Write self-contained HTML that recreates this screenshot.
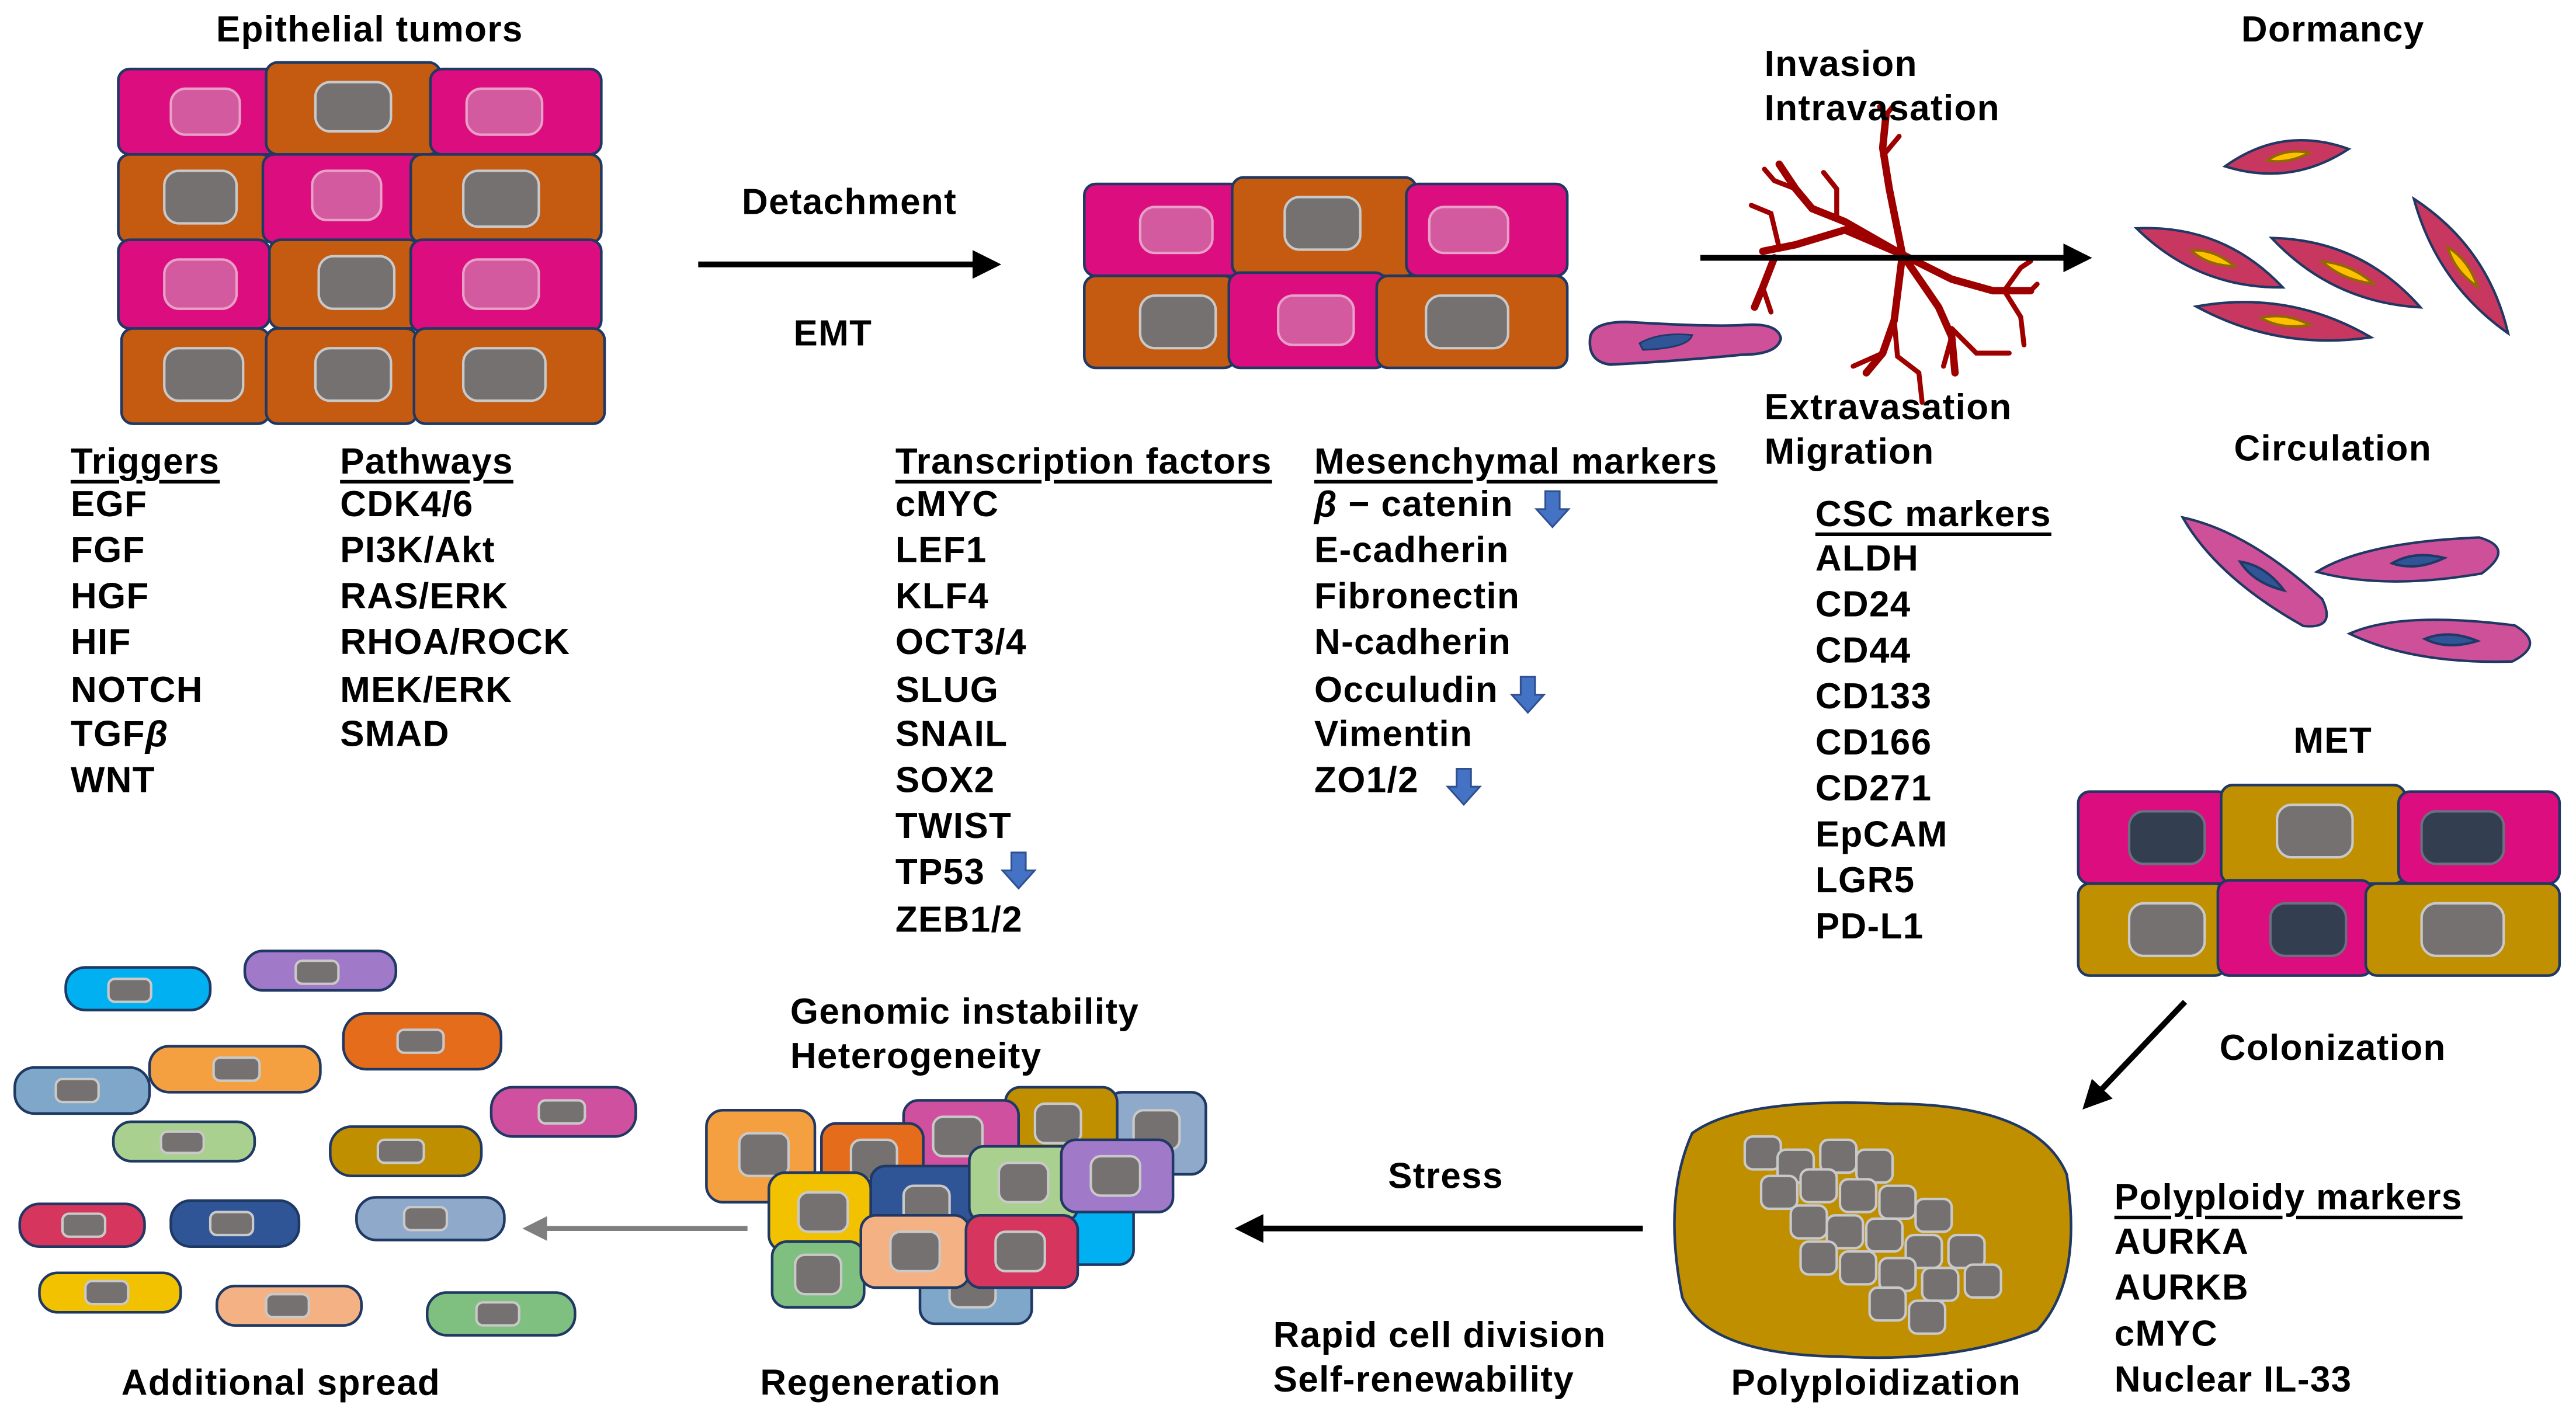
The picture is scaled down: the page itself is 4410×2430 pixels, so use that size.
<!DOCTYPE html>
<html><head><meta charset="utf-8"><style>
html,body{margin:0;padding:0;background:#fff;width:4410px;height:2430px;overflow:hidden}
svg{display:block}
text{font-family:"Liberation Sans",Arial,sans-serif;font-weight:bold;font-size:22px;letter-spacing:0.5px;fill:#000;dominant-baseline:central}
.c{stroke:#1F3864;stroke-width:1.6}
.n{fill:#767171;stroke:#C9C9C9;stroke-width:1.5}
.pn{fill:#D45A9F;stroke:#E8A0C8;stroke-width:1.5}
.dn{fill:#333F50;stroke:#6A7080;stroke-width:1.5}
.v{fill:none;stroke:#9E0000;stroke-width:4.5;stroke-linecap:round;stroke-linejoin:round}
.v2{fill:none;stroke:#9E0000;stroke-width:3;stroke-linecap:round}
</style></head><body>
<svg width="4410" height="2430" viewBox="0 0 1568 864" xmlns="http://www.w3.org/2000/svg">
<defs>
<marker id="ah" viewBox="0 0 10 10" refX="8" refY="5" markerWidth="5" markerHeight="5" orient="auto"><path d="M0,0 L10,5 L0,10 z" fill="#000"/></marker>
<marker id="ahg" viewBox="0 0 10 10" refX="8" refY="5" markerWidth="5" markerHeight="5" orient="auto"><path d="M0,0 L10,5 L0,10 z" fill="#7F7F7F"/></marker>
<symbol id="da" viewBox="0 0 20 22"><path d="M6,1 H14 V11 H19 L10,21 L1,11 H6 Z" fill="#4472C4" stroke="#2F4F8F" stroke-width="1"/></symbol>
</defs>

<text x="225" y="18" text-anchor="middle">Epithelial tumors</text>
<g>
<rect class="c" x="72" y="42" width="98" height="52" rx="7" fill="#DC0D7E"/><rect class="pn" x="104" y="54" width="42" height="28" rx="9"/>
<rect class="c" x="162" y="38" width="106" height="56" rx="7" fill="#C55A11"/><rect class="n" x="192" y="50" width="46" height="30" rx="9"/>
<rect class="c" x="262" y="42" width="104" height="52" rx="7" fill="#DC0D7E"/><rect class="pn" x="284" y="54" width="46" height="28" rx="9"/>
<rect class="c" x="72" y="94" width="94" height="54" rx="7" fill="#C55A11"/><rect class="n" x="100" y="104" width="44" height="32" rx="9"/>
<rect class="c" x="160" y="94" width="98" height="54" rx="7" fill="#DC0D7E"/><rect class="pn" x="190" y="104" width="42" height="30" rx="9"/>
<rect class="c" x="250" y="94" width="116" height="54" rx="7" fill="#C55A11"/><rect class="n" x="282" y="104" width="46" height="34" rx="9"/>
<rect class="c" x="72" y="146" width="92" height="54" rx="7" fill="#DC0D7E"/><rect class="pn" x="100" y="158" width="44" height="30" rx="9"/>
<rect class="c" x="164" y="146" width="92" height="54" rx="7" fill="#C55A11"/><rect class="n" x="194" y="156" width="46" height="32" rx="9"/>
<rect class="c" x="250" y="146" width="116" height="56" rx="7" fill="#DC0D7E"/><rect class="pn" x="282" y="158" width="46" height="30" rx="9"/>
<rect class="c" x="74" y="200" width="90" height="58" rx="7" fill="#C55A11"/><rect class="n" x="100" y="212" width="48" height="32" rx="9"/>
<rect class="c" x="162" y="200" width="92" height="58" rx="7" fill="#C55A11"/><rect class="n" x="192" y="212" width="46" height="32" rx="9"/>
<rect class="c" x="252" y="200" width="116" height="58" rx="7" fill="#C55A11"/><rect class="n" x="282" y="212" width="50" height="32" rx="9"/>
</g>

<line x1="425" y1="161" x2="606" y2="161" stroke="#000" stroke-width="3.5" marker-end="url(#ah)"/>
<text x="517" y="123" text-anchor="middle">Detachment</text>
<text x="507" y="203" text-anchor="middle">EMT</text>

<g>
<rect class="c" x="660" y="112" width="96" height="56" rx="7" fill="#DC0D7E"/><rect class="pn" x="694" y="126" width="44" height="28" rx="9"/>
<rect class="c" x="750" y="108" width="112" height="60" rx="7" fill="#C55A11"/><rect class="n" x="782" y="120" width="46" height="32" rx="9"/>
<rect class="c" x="856" y="112" width="98" height="56" rx="7" fill="#DC0D7E"/><rect class="pn" x="870" y="126" width="48" height="28" rx="9"/>
<rect class="c" x="660" y="168" width="92" height="56" rx="7" fill="#C55A11"/><rect class="n" x="694" y="180" width="46" height="32" rx="9"/>
<rect class="c" x="748" y="166" width="96" height="58" rx="7" fill="#DC0D7E"/><rect class="pn" x="778" y="180" width="46" height="30" rx="9"/>
<rect class="c" x="838" y="168" width="116" height="56" rx="7" fill="#C55A11"/><rect class="n" x="868" y="180" width="50" height="32" rx="9"/>
<path class="c" d="M968,205 Q970,196 990,196 Q1040,199 1060,198 Q1082,196 1084,206 Q1082,216 1060,216 Q1020,220 980,222 Q966,220 968,205Z" fill="#CE5099"/>
<path d="M998,209 Q1010,202 1030,204 Q1028,212 1000,213Z" fill="#2F5597" stroke="#1F3864"/>
</g>

<g transform="translate(1158,155)">
<path class="v" d="M0,0 L-8,-40 L-12,-65 L-10,-85"/>
<path class="v2" d="M-12,-60 L-2,-72 M-10,-85 L-14,-90 M-10,-85 L-6,-90"/>
<path class="v" d="M0,0 L-35,-20 L-55,-28 L-65,-40 L-75,-55"/>
<path class="v2" d="M-55,-28 L-68,-45 M-65,-40 L-78,-45 L-84,-52 M-40,-22 L-40,-40 L-48,-50"/>
<path class="v" d="M0,0 L-35,-15 L-65,-6 L-85,-2"/>
<path class="v2" d="M-75,-4 L-80,-25 L-92,-30"/>
<path class="v" d="M-78,2 L-85,20 L-90,32"/>
<path class="v2" d="M-85,20 L-80,35"/>
<path class="v" d="M0,0 L-5,40 L-12,60 L-22,72"/>
<path class="v2" d="M-12,60 L-30,68 M-5,40 L-3,62 L10,72 L12,90"/>
<path class="v" d="M0,0 L22,32 L30,50 L32,72"/>
<path class="v2" d="M30,50 L25,68 M30,45 L45,60 L65,60"/>
<path class="v" d="M0,0 L30,15 L55,22 L78,22"/>
<path class="v2" d="M62,22 L72,8 L78,4 M78,22 L82,18 M62,22 L72,38 L74,55"/>
</g>
<line x1="1035" y1="157" x2="1270" y2="157" stroke="#000" stroke-width="3.5" marker-end="url(#ah)"/>
<text x="1074" y="39">Invasion</text>
<text x="1074" y="66">Intravasation</text>
<text x="1074" y="248">Extravasation</text>
<text x="1074" y="275">Migration</text>

<text x="1420" y="18" text-anchor="middle">Dormancy</text>
<g fill="#C8375F" stroke="#1F3864" stroke-width="1.5">
<g transform="translate(1392,96) rotate(-8)"><path d="M-38,0 Q0,-20 38,0 Q0,18 -38,0Z"/><path d="M-12,0 Q0,-6 14,-1 Q0,4 -12,0Z" fill="#FFC000" stroke="#8F6A00"/></g>
<g transform="translate(1345,157) rotate(22)"><path d="M-48,0 Q0,-22 48,0 Q0,20 -48,0Z"/><path d="M-12,0 Q0,-6 16,-1 Q0,5 -12,0Z" fill="#FFC000" stroke="#8F6A00"/></g>
<g transform="translate(1428,166) rotate(25)"><path d="M-50,0 Q0,-22 50,0 Q0,20 -50,0Z"/><path d="M-16,0 Q0,-6 18,-1 Q0,5 -16,0Z" fill="#FFC000" stroke="#8F6A00"/></g>
<g transform="translate(1498,162) rotate(55)"><path d="M-50,0 Q0,-20 50,0 Q0,18 -50,0Z"/><path d="M-14,0 Q0,-6 16,-1 Q0,5 -14,0Z" fill="#FFC000" stroke="#8F6A00"/></g>
<g transform="translate(1390,196) rotate(10)"><path d="M-54,0 Q0,-20 54,0 Q0,18 -54,0Z"/><path d="M-14,0 Q0,-6 16,-1 Q0,5 -14,0Z" fill="#FFC000" stroke="#8F6A00"/></g>
</g>

<text x="1420" y="273" text-anchor="middle">Circulation</text>
<g fill="#CE5099" stroke="#1F3864" stroke-width="1.5">
<g transform="translate(1375,350) rotate(35)"><path d="M-58,-2 Q-20,-18 40,-10 Q58,0 40,10 Q-20,16 -58,-2Z"/><path d="M-14,0 Q0,-7 18,-1 Q0,6 -14,0Z" fill="#2F5597"/></g>
<g transform="translate(1470,342) rotate(-4)"><path d="M-60,2 Q-30,-14 40,-12 Q62,-4 40,10 Q-20,16 -60,2Z"/><path d="M-14,0 Q0,-7 18,-1 Q0,6 -14,0Z" fill="#2F5597"/></g>
<g transform="translate(1490,390) rotate(4)"><path d="M-60,0 Q-30,-16 40,-12 Q60,-2 40,10 Q-20,16 -60,0Z"/><path d="M-14,0 Q0,-7 18,-1 Q0,6 -14,0Z" fill="#2F5597"/></g>
</g>

<text x="1420" y="451" text-anchor="middle">MET</text>
<g>
<rect class="c" x="1265" y="482" width="92" height="56" rx="7" fill="#DC0D7E"/><rect class="dn" x="1296" y="494" width="46" height="32" rx="9"/>
<rect class="c" x="1352" y="478" width="112" height="60" rx="7" fill="#C09000"/><rect class="n" x="1386" y="490" width="46" height="32" rx="9"/>
<rect class="c" x="1460" y="482" width="98" height="56" rx="7" fill="#DC0D7E"/><rect class="dn" x="1474" y="494" width="50" height="32" rx="9"/>
<rect class="c" x="1265" y="538" width="90" height="56" rx="7" fill="#C09000"/><rect class="n" x="1296" y="550" width="46" height="32" rx="9"/>
<rect class="c" x="1350" y="536" width="94" height="58" rx="7" fill="#DC0D7E"/><rect class="dn" x="1382" y="550" width="46" height="32" rx="9"/>
<rect class="c" x="1440" y="538" width="118" height="56" rx="7" fill="#C09000"/><rect class="n" x="1474" y="550" width="50" height="32" rx="9"/>
</g>
<line x1="1330" y1="610" x2="1270" y2="673" stroke="#000" stroke-width="3.5" marker-end="url(#ah)"/>
<text x="1420" y="638" text-anchor="middle">Colonization</text>

<path d="M1030,690 Q1060,668 1150,672 Q1240,672 1258,715 Q1268,780 1240,810 Q1190,830 1120,826 Q1040,825 1024,790 Q1012,730 1030,690Z" fill="#BF8F00" stroke="#1F3864" stroke-width="1.6"/>
<g class="n">
<rect x="1062" y="692" width="22" height="20" rx="5"/><rect x="1082" y="700" width="22" height="20" rx="5"/><rect x="1108" y="694" width="22" height="20" rx="5"/><rect x="1130" y="700" width="22" height="20" rx="5"/>
<rect x="1072" y="716" width="22" height="20" rx="5"/><rect x="1096" y="712" width="22" height="20" rx="5"/><rect x="1120" y="718" width="22" height="20" rx="5"/><rect x="1144" y="722" width="22" height="20" rx="5"/><rect x="1166" y="730" width="22" height="20" rx="5"/>
<rect x="1090" y="734" width="22" height="20" rx="5"/><rect x="1112" y="740" width="22" height="20" rx="5"/><rect x="1136" y="742" width="22" height="20" rx="5"/><rect x="1160" y="752" width="22" height="20" rx="5"/><rect x="1186" y="752" width="22" height="20" rx="5"/>
<rect x="1096" y="756" width="22" height="20" rx="5"/><rect x="1120" y="762" width="22" height="20" rx="5"/><rect x="1144" y="766" width="22" height="20" rx="5"/><rect x="1170" y="772" width="22" height="20" rx="5"/><rect x="1196" y="770" width="22" height="20" rx="5"/>
<rect x="1138" y="784" width="22" height="20" rx="5"/><rect x="1162" y="792" width="22" height="20" rx="5"/>
</g>
<text x="1142" y="842" text-anchor="middle">Polyploidization</text>

<line x1="1000" y1="748" x2="755" y2="748" stroke="#000" stroke-width="3.5" marker-end="url(#ah)"/>
<text x="880" y="716" text-anchor="middle">Stress</text>
<text x="775" y="813">Rapid cell division</text>
<text x="775" y="840">Self-renewability</text>

<g class="c">
<rect x="674" y="665" width="60" height="50" rx="9" fill="#8EA9C9"/><rect class="n" x="690" y="676" width="28" height="24" rx="6"/>
<rect x="612" y="662" width="68" height="48" rx="9" fill="#BF8F00"/><rect class="n" x="630" y="672" width="28" height="24" rx="6"/>
<rect x="550" y="670" width="70" height="48" rx="9" fill="#D050A0"/><rect class="n" x="568" y="680" width="30" height="24" rx="6"/>
<rect x="430" y="676" width="66" height="56" rx="10" fill="#F4A040"/><rect class="n" x="450" y="690" width="30" height="26" rx="6"/>
<rect x="500" y="684" width="62" height="46" rx="9" fill="#E46C1A"/><rect class="n" x="518" y="694" width="28" height="24" rx="6"/>
<rect x="620" y="730" width="70" height="40" rx="9" fill="#00B0F0"/>
<rect x="530" y="710" width="70" height="52" rx="9" fill="#2F5597"/><rect class="n" x="550" y="722" width="28" height="24" rx="6"/>
<rect x="590" y="698" width="66" height="46" rx="9" fill="#A9D08E"/><rect class="n" x="608" y="708" width="30" height="24" rx="6"/>
<rect x="646" y="694" width="68" height="44" rx="9" fill="#A079C9"/><rect class="n" x="664" y="704" width="30" height="24" rx="6"/>
<rect x="468" y="714" width="62" height="48" rx="10" fill="#F2C100"/><rect class="n" x="486" y="726" width="30" height="24" rx="6"/>
<rect x="470" y="756" width="56" height="40" rx="9" fill="#7FBF7F"/><rect class="n" x="484" y="764" width="28" height="24" rx="6"/>
<rect x="560" y="768" width="68" height="38" rx="9" fill="#7FA7C9"/><rect class="n" x="578" y="774" width="28" height="22" rx="6"/>
<rect x="524" y="740" width="66" height="44" rx="9" fill="#F4B183"/><rect class="n" x="542" y="750" width="30" height="24" rx="6"/>
<rect x="588" y="740" width="68" height="44" rx="9" fill="#D6365E"/><rect class="n" x="606" y="750" width="30" height="24" rx="6"/>
</g>
<text x="481" y="616">Genomic instability</text>
<text x="481" y="643">Heterogeneity</text>
<text x="536" y="842" text-anchor="middle">Regeneration</text>
<line x1="455" y1="748" x2="321" y2="748" stroke="#7F7F7F" stroke-width="3" marker-end="url(#ahg)"/>

<g class="c">
<rect x="40" y="589" width="88" height="26" rx="12" fill="#00B0F0"/><rect class="n" x="66" y="596" width="26" height="14" rx="4"/>
<rect x="149" y="579" width="92" height="24" rx="11" fill="#A079C9"/><rect class="n" x="180" y="585" width="26" height="14" rx="4"/>
<rect x="209" y="617" width="96" height="34" rx="14" fill="#E46C1A"/><rect class="n" x="242" y="627" width="28" height="14" rx="4"/>
<rect x="9" y="650" width="82" height="28" rx="12" fill="#7FA7C9"/><rect class="n" x="34" y="657" width="26" height="14" rx="4"/>
<rect x="91" y="637" width="104" height="28" rx="12" fill="#F4A040"/><rect class="n" x="130" y="644" width="28" height="14" rx="4"/>
<rect x="299" y="662" width="88" height="30" rx="13" fill="#D050A0"/><rect class="n" x="328" y="670" width="28" height="14" rx="4"/>
<rect x="69" y="683" width="86" height="24" rx="11" fill="#A9D08E"/><rect class="n" x="98" y="689" width="26" height="13" rx="4"/>
<rect x="201" y="686" width="92" height="30" rx="13" fill="#BF8F00"/><rect class="n" x="230" y="694" width="28" height="14" rx="4"/>
<rect x="12" y="733" width="76" height="26" rx="12" fill="#D6365E"/><rect class="n" x="38" y="739" width="26" height="14" rx="4"/>
<rect x="104" y="731" width="78" height="28" rx="12" fill="#2F5597"/><rect class="n" x="128" y="738" width="26" height="14" rx="4"/>
<rect x="217" y="729" width="90" height="26" rx="12" fill="#8EA9C9"/><rect class="n" x="246" y="735" width="26" height="14" rx="4"/>
<rect x="24" y="775" width="86" height="24" rx="11" fill="#F2C100"/><rect class="n" x="52" y="780" width="26" height="14" rx="4"/>
<rect x="132" y="783" width="88" height="24" rx="11" fill="#F4B183"/><rect class="n" x="162" y="788" width="26" height="14" rx="4"/>
<rect x="260" y="787" width="90" height="26" rx="12" fill="#7FBF7F"/><rect class="n" x="290" y="793" width="26" height="14" rx="4"/>
</g>
<text x="171" y="842" text-anchor="middle">Additional spread</text>

<text x="43" y="281" text-decoration="underline">Triggers</text>
<text x="43" y="307">EGF</text><text x="43" y="335">FGF</text><text x="43" y="363">HGF</text><text x="43" y="391">HIF</text><text x="43" y="420">NOTCH</text><text x="43" y="447">TGF<tspan font-style="italic">β</tspan></text><text x="43" y="475">WNT</text>
<text x="207" y="281" text-decoration="underline">Pathways</text>
<text x="207" y="307">CDK4/6</text><text x="207" y="335">PI3K/Akt</text><text x="207" y="363">RAS/ERK</text><text x="207" y="391">RHOA/ROCK</text><text x="207" y="420">MEK/ERK</text><text x="207" y="447">SMAD</text>

<text x="545" y="281" text-decoration="underline">Transcription factors</text>
<text x="545" y="307">cMYC</text><text x="545" y="335">LEF1</text><text x="545" y="363">KLF4</text><text x="545" y="391">OCT3/4</text><text x="545" y="420">SLUG</text><text x="545" y="447">SNAIL</text><text x="545" y="475">SOX2</text><text x="545" y="503">TWIST</text><text x="545" y="531">TP53</text><text x="545" y="560">ZEB1/2</text>
<use href="#da" x="609" y="518" width="22" height="24"/>

<text x="800" y="281" text-decoration="underline">Mesenchymal markers</text>
<text x="800" y="307"><tspan font-style="italic">β</tspan> − catenin</text><text x="800" y="335">E-cadherin</text><text x="800" y="363">Fibronectin</text><text x="800" y="391">N-cadherin</text><text x="800" y="420">Occuludin</text><text x="800" y="447">Vimentin</text><text x="800" y="475">ZO1/2</text>
<use href="#da" x="934" y="298" width="22" height="24"/>
<use href="#da" x="919" y="411" width="22" height="24"/>
<use href="#da" x="880" y="467" width="22" height="24"/>

<text x="1105" y="313" text-decoration="underline">CSC markers</text>
<text x="1105" y="340">ALDH</text><text x="1105" y="368">CD24</text><text x="1105" y="396">CD44</text><text x="1105" y="424">CD133</text><text x="1105" y="452">CD166</text><text x="1105" y="480">CD271</text><text x="1105" y="508">EpCAM</text><text x="1105" y="536">LGR5</text><text x="1105" y="564">PD-L1</text>

<text x="1287" y="729" text-decoration="underline">Polyploidy markers</text>
<text x="1287" y="756">AURKA</text><text x="1287" y="784">AURKB</text><text x="1287" y="812">cMYC</text><text x="1287" y="840">Nuclear IL-33</text>
</svg>
</body></html>
